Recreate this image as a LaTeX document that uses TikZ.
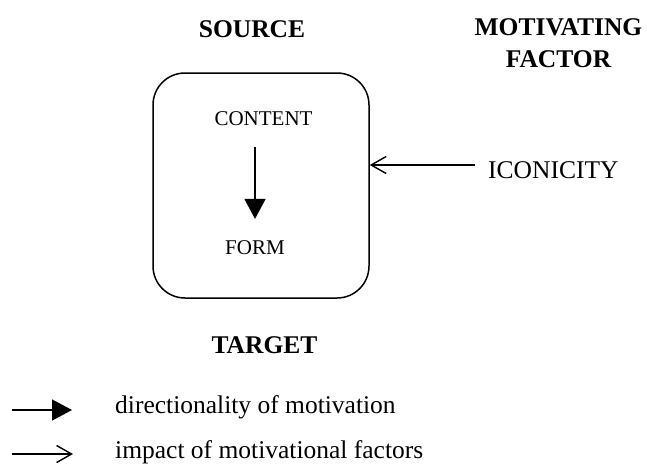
\documentclass[tikz,border=0pt]{standalone}
\usepackage{fontspec}
\setmainfont{Liberation Serif}
\usetikzlibrary{arrows.meta}

\begin{document}
\begin{tikzpicture}[x=1pt,y=-1pt,
  heading/.style={inner sep=0pt,anchor=base,font=\fontsize{25.5}{31}\selectfont\bfseries,align=center},
  inbox/.style={inner sep=0pt,anchor=base,font=\fontsize{21}{25}\selectfont},
  label/.style={inner sep=0pt,anchor=base west,font=\fontsize{25.5}{31}\selectfont},
  frame/.style={draw,line width=1.5pt,rounded corners=32pt,minimum width=216pt,minimum height=225pt,inner sep=0pt},
  dirarrow/.style={line width=1.5pt,-{Triangle[length=20pt,width=21pt]}},
  impactarrow/.style={line width=1.4pt,-{Straight Barb[length=15pt,width=17pt,line width=1.4pt]}}]
  \useasboundingbox (0,0) rectangle (647,464);

  % column headings
  \node[heading] (source) at (252,37) {SOURCE};
  \node[heading] (motiv) at (558.5,35) {MOTIVATING};
  \node[heading] (factor) at (558.5,67) {FACTOR};
  \node[heading] (target) at (264.5,353) {TARGET};

  % sign box with its two poles
  \node[frame] (box) at (261,185.5) {};
  \node[inbox] (content) at (263.5,125) {CONTENT};
  \node[inbox] (form) at (255,254) {FORM};
  \draw[dirarrow,shorten <=22pt,shorten >=21pt] (content.south -| form.north) -- (form.north);

  % motivating factor acting on the box
  \node[label] (iconicity) at (488,178) {ICONICITY};
  \coordinate (icstart) at (475,165);
  \draw[impactarrow] (icstart) -- (icstart -| box.east);

  % key
  \coordinate (k1a) at (12,410);
  \coordinate (k1b) at (72,410);
  \coordinate (k2a) at (12,454);
  \coordinate (k2b) at (73,454);
  \draw[dirarrow] (k1a) -- (k1b);
  \draw[impactarrow] (k2a) -- (k2b);
  \node[label] (key1) at (115,413) {directionality of motivation};
  \node[label] (key2) at (115,458) {impact of motivational factors};
\end{tikzpicture}
\end{document}
